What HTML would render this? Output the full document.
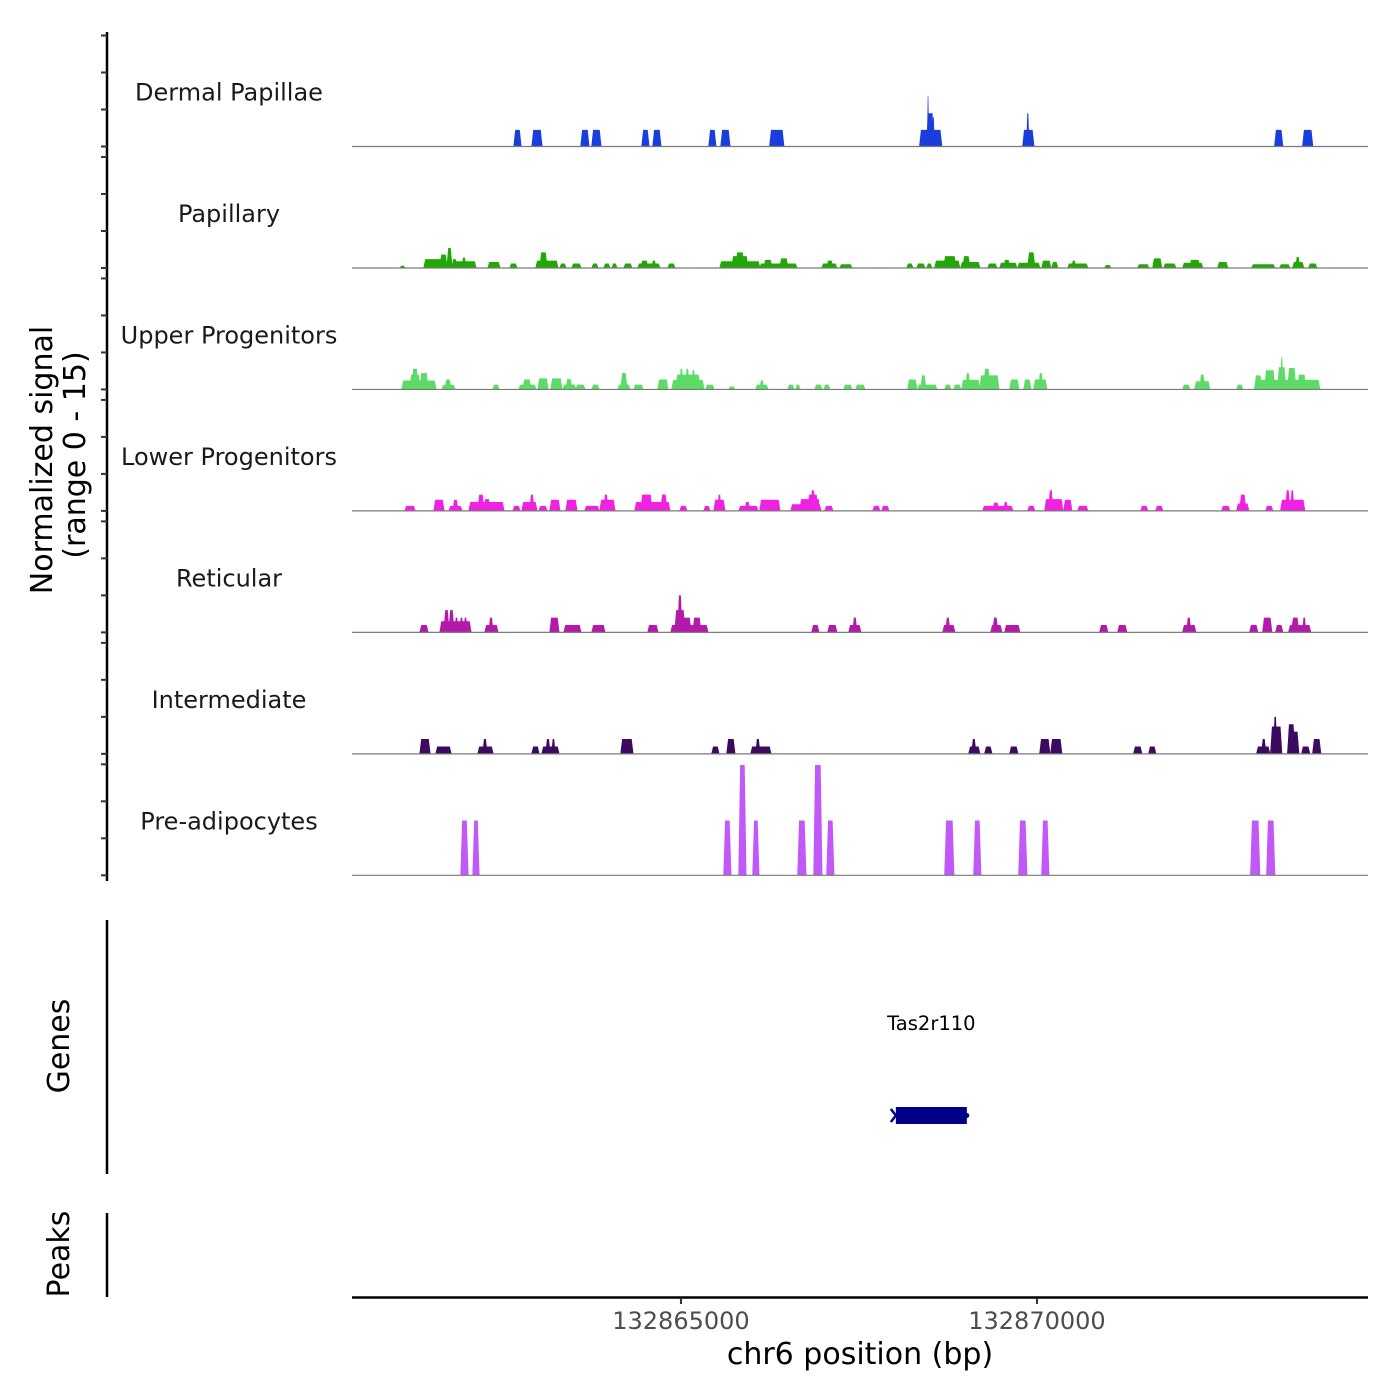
<!DOCTYPE html>
<html><head><meta charset="utf-8">
<style>
html,body{margin:0;padding:0;background:#fff;}
svg{display:block;font-family:"DejaVu Sans","Liberation Sans",sans-serif;}
</style></head>
<body>
<svg id="chart" width="1400" height="1400" viewBox="0 0 1400 1400" xmlns="http://www.w3.org/2000/svg">
<rect width="1400" height="1400" fill="#fff"/>
<g id="tracks"></g>
<g id="yaxis"></g>
<text transform="translate(52,460) rotate(-90)" text-anchor="middle" font-size="30" fill="#000">Normalized signal</text>
<text transform="translate(85,455) rotate(-90)" text-anchor="middle" font-size="30" fill="#000">(range 0 - 15)</text>
<line x1="107" y1="920" x2="107" y2="1174" stroke="#000" stroke-width="2.5"/>
<text transform="translate(69,1046) rotate(-90)" text-anchor="middle" font-size="30" fill="#000">Genes</text>
<line x1="107" y1="1213" x2="107" y2="1297" stroke="#000" stroke-width="2.5"/>
<text transform="translate(69,1254) rotate(-90)" text-anchor="middle" font-size="30" fill="#000">Peaks</text>
<g id="genes"></g>
<g id="xaxis"></g>
<text x="860" y="1364" text-anchor="middle" font-size="30" fill="#000">chr6 position (bp)</text>
</svg>
<script>
const BASE = 132860000;
const regionStart = 380, regionEnd = 14649;
const trackNames = ["Dermal Papillae","Papillary","Upper Progenitors","Lower Progenitors","Reticular","Intermediate","Pre-adipocytes"];
const trackColors = ["#1a3edc","#22a806","#5cdc66","#ee22e0","#b31aa9","#3c0a5f","#c158f8"];
const yTicks = [0,5,10,15];
const xTicks = [132865000,132870000];
const xTickLabels = ["132865000","132870000"];
// peaks: [start offset bp, end offset bp, value]
const dermal = [[2655,2753,2.25],[2908,3048,2.25],[3595,3707,2.25],[3749,3876,2.25],[4452,4550,2.25],[4606,4718,2.25],[5392,5490,2.25],[5561,5687,2.25],[6247,6444,2.25],[8353,8662,2.25],[8452,8550,4.5],[8462,8478,6.8],[8536,8556,4.0],[9801,9956,2.25],[9857,9885,4.5],[13339,13451,2.25],[13732,13872,2.25]];
const papillary = [[1054,1124,0.3],[1391,1644,1.2],[1616,1714,1.8],[1714,1784,2.7],[1784,1854,1.2],[1826,2121,0.9],[1924,1981,1.4],[2290,2458,0.8],[2598,2697,0.6],[2963,3272,1.0],[3020,3118,2.1],[3300,3385,0.6],[3469,3595,0.6],[3750,3834,0.6],[3918,4002,0.6],[4030,4101,0.6],[4199,4311,0.6],[4395,4704,0.6],[4438,4536,1.0],[4592,4648,1.0],[4817,4915,0.6],[5547,6108,0.9],[5715,5940,1.6],[5771,5884,2.1],[6108,6628,0.6],[6165,6277,1.1],[6389,6502,1.3],[6979,7189,0.6],[7049,7133,1.0],[7232,7400,0.5],[8172,8257,0.6],[8313,8425,0.6],[8453,8523,0.6],[8565,8916,1.0],[8692,8860,1.6],[8930,9197,0.8],[8959,9057,1.6],[9310,9436,0.6],[9478,9717,0.7],[9534,9618,1.1],[9731,10040,0.7],[9871,9969,2.1],[10068,10194,1.0],[10208,10292,0.8],[10433,10714,0.6],[10489,10545,1.0],[10952,11036,0.4],[11416,11570,0.5],[11626,11752,1.3],[11781,11949,0.6],[12047,12328,0.7],[12146,12286,1.1],[12539,12679,0.8],[13016,13339,0.5],[13409,13550,0.5],[13592,13746,0.8],[13634,13690,1.5],[13816,13929,0.6]];
const upper = [[1082,1559,1.2],[1194,1335,2.0],[1222,1307,2.8],[1335,1447,2.2],[1644,1826,0.6],[1686,1770,1.35],[2360,2444,0.65],[2725,2963,0.65],[2781,2893,1.35],[2992,3132,1.5],[3174,3328,1.5],[3343,3525,0.65],[3385,3469,1.4],[3525,3651,0.65],[3750,3848,0.65],[4115,4283,0.65],[4157,4241,2.2],[4339,4466,0.65],[4676,4817,1.35],[4873,5322,1.3],[4929,5266,2.0],[4985,5027,2.8],[5069,5112,2.8],[5154,5196,2.6],[5350,5463,0.65],[5673,5757,0.4],[6052,6221,0.65],[6108,6165,1.2],[6502,6586,0.65],[6614,6670,0.65],[6881,6979,0.65],[7007,7091,0.65],[7288,7400,0.65],[7456,7583,0.65],[8186,8313,1.35],[8327,8593,0.65],[8369,8439,1.9],[8706,8790,0.65],[8832,8930,0.65],[8944,9197,1.3],[9001,9057,2.2],[9197,9464,1.9],[9253,9338,2.8],[9618,9745,1.35],[9815,9913,1.35],[9955,10138,1.35],[10026,10082,2.2],[12047,12146,0.65],[12216,12426,1.1],[12286,12356,2.0],[12805,12890,0.65],[13058,13971,1.3],[13058,13156,1.9],[13199,13339,2.6],[13381,13493,3.0],[13423,13451,4.3],[13522,13634,2.9],[13662,13774,2.0],[13802,13971,0.65]];
const lower = [[1124,1265,0.68],[1531,1672,1.5],[1742,1924,0.68],[1798,1868,1.5],[2023,2514,1.2],[2149,2233,2.2],[2233,2318,1.6],[2641,2739,0.68],[2767,2977,1.2],[2879,2935,2.2],[3006,3118,0.68],[3160,3300,1.5],[3385,3539,1.5],[3651,3848,0.68],[3862,4073,1.5],[3918,3974,2.2],[4353,4845,1.2],[4438,4592,2.2],[4718,4803,2.2],[4985,5083,0.68],[5322,5406,0.68],[5463,5617,1.5],[5519,5561,2.2],[5814,6080,0.68],[5898,5968,1.2],[6108,6389,1.5],[6544,6965,0.9],[6670,6951,1.6],[6782,6923,2.2],[6824,6881,2.8],[7021,7133,0.68],[7695,7793,0.68],[7821,7920,0.68],[9239,9661,0.68],[9380,9464,1.1],[9534,9590,1.2],[9871,9969,0.68],[10110,10363,1.6],[10166,10222,2.8],[10377,10489,1.5],[10573,10714,0.68],[11458,11556,0.68],[11668,11767,0.68],[12595,12707,0.68],[12805,12974,1.0],[12848,12932,2.2],[13213,13311,0.68],[13423,13760,1.5],[13493,13550,2.8],[13564,13606,2.8]];
const reticular = [[1335,1447,1.0],[1616,2051,1.5],[1672,1742,3.0],[1742,1812,3.0],[1826,1868,2.0],[1896,1939,2.0],[1953,1995,2.0],[2247,2430,1.0],[2304,2360,2.0],[3160,3286,2.0],[3357,3595,1.0],[3750,3932,1.0],[4536,4676,1.0],[4859,5378,1.0],[4915,5140,2.0],[4915,5055,3.0],[4957,5013,5.0],[5168,5280,2.0],[6838,6937,1.0],[7063,7189,1.0],[7358,7526,1.0],[7414,7470,2.0],[8678,8846,1.0],[8720,8776,2.0],[9352,9506,1.0],[9380,9450,2.0],[9548,9759,1.0],[10882,10994,1.0],[11135,11261,1.0],[12047,12230,1.0],[12103,12160,2.0],[12988,13100,1.0],[13171,13297,2.0],[13353,13451,1.0],[13536,13844,1.0],[13578,13676,2.0],[13732,13774,2.0]];
const intermediate = [[1335,1475,2.0],[1559,1770,1.0],[2149,2360,1.0],[2219,2275,2.0],[2907,3006,1.0],[3048,3286,1.0],[3104,3160,2.0],[3188,3230,2.0],[4157,4325,2.0],[5434,5533,1.0],[5645,5757,2.0],[5982,6263,1.0],[6052,6108,2.0],[9043,9197,1.0],[9085,9141,2.0],[9267,9366,1.0],[9618,9731,1.0],[10040,10180,2.0],[10194,10348,2.0],[11359,11472,1.0],[11570,11668,1.0],[13086,13269,1.0],[13156,13213,2.0],[13283,13437,3.7],[13325,13367,5.0],[13522,13676,3.0],[13522,13620,4.0],[13718,13830,1.0],[13873,13985,2.0]];
const preadipocytes = [[1910,2009,7.4],[2079,2163,7.4],[5603,5701,7.4],[5814,5912,14.9],[6010,6094,7.4],[6642,6754,7.4],[6867,6979,14.9],[7049,7147,7.4],[8706,8832,7.4],[9113,9211,7.4],[9745,9857,7.4],[10068,10166,7.4],[13002,13128,7.4],[13227,13339,7.4]];
const trackData = [dermal,papillary,upper,lower,reticular,intermediate,preadipocytes];
const geneName = ["Tas2r110"];
const geneStart = [8018];
const geneEnd = [9015];

const NS = "http://www.w3.org/2000/svg";
const plotL = 352, plotR = 1368;
function xScale(off){ return plotL + (off - regionStart) / (regionEnd - regionStart) * (plotR - plotL); }
function xScaleBp(bp){ return xScale(bp - BASE); }
const firstBase = 146.5, pitch = 121.47, pxPerUnit = 7.4;
function baseY(i){ return firstBase + i * pitch; }
function yScale(i, v){ return baseY(i) - v * pxPerUnit; }
function mk(tag, attrs, parent){ const e = document.createElementNS(NS, tag); for (const k in attrs) e.setAttribute(k, attrs[k]); parent.appendChild(e); return e; }

const gT = document.getElementById("tracks");
const gY = document.getElementById("yaxis");
const yLine = mk("line", {x1:107, y1:32, x2:107, y2:881, stroke:"#000", "stroke-width":2.5}, gY);



trackData.forEach((peaks, i) => {
  const g = mk("g", {}, gT);
  
  
  const lab = mk("text", {x:229, y:baseY(i) - 46, "text-anchor":"middle", "font-size":24, fill:"#1a1a1a"}, g);
  lab.textContent = trackNames[i];
  
  
  peaks.forEach(p => {
    const x1 = xScale(p[0]), x2 = xScale(p[1]), yb = baseY(i), yt = yScale(i, p[2]);
    const w = x2 - x1;
    const inset = Math.min(1.2, w / 4);
    const poly = mk("polygon", {points:`${x1-0.6},${yb} ${x1+inset},${yt} ${x2-inset},${yt} ${x2+0.6},${yb}`, fill:trackColors[i]}, g);
    
    
  });
  const bl = mk("line", {x1:plotL, y1:baseY(i), x2:plotR, y2:baseY(i), stroke:"#7a7a7a", "stroke-width":1.2}, g);
  
  
  yTicks.forEach(t => {
    const tk = mk("line", {x1:101, y1:yScale(i, t), x2:107, y2:yScale(i, t), stroke:"#333", "stroke-width":2}, gY);
    
    
  });
});

const gG = document.getElementById("genes");
geneName.forEach((n, k) => {
  const x1 = xScale(geneStart[k]), x2 = xScale(geneEnd[k]);
  const r = mk("rect", {x:x1, y:1107, width:x2 - x1, height:17, fill:"#00008b"}, gG);
  
  
  const a = mk("path", {d:`M${x1-5},${1109} L${x1},${1115.5} L${x1-5},${1122}`, stroke:"#00008b", "stroke-width":2.5, fill:"none"}, gG);
  
  
  const d = mk("circle", {cx:x2, cy:1115.5, r:2.5, fill:"#00008b"}, gG);
  
  
  const t = mk("text", {x:(x1 + x2) / 2, y:1030, "text-anchor":"middle", "font-size":19.5, fill:"#000"}, gG);
  t.textContent = n;
  
  
});

const gX = document.getElementById("xaxis");
const xl = mk("line", {x1:plotL, y1:1297.5, x2:plotR, y2:1297.5, stroke:"#000", "stroke-width":2.5}, gX);


xTicks.forEach((t, k) => {
  const x = xScaleBp(t);
  const tk = mk("line", {x1:x, y1:1298, x2:x, y2:1304, stroke:"#333", "stroke-width":2}, gX);
  
  
  const lb = mk("text", {x:x, y:1329, "text-anchor":"middle", "font-size":24, fill:"#4d4d4d"}, gX);
  lb.textContent = xTickLabels[k];
  
  
});
</script>
</body></html>
